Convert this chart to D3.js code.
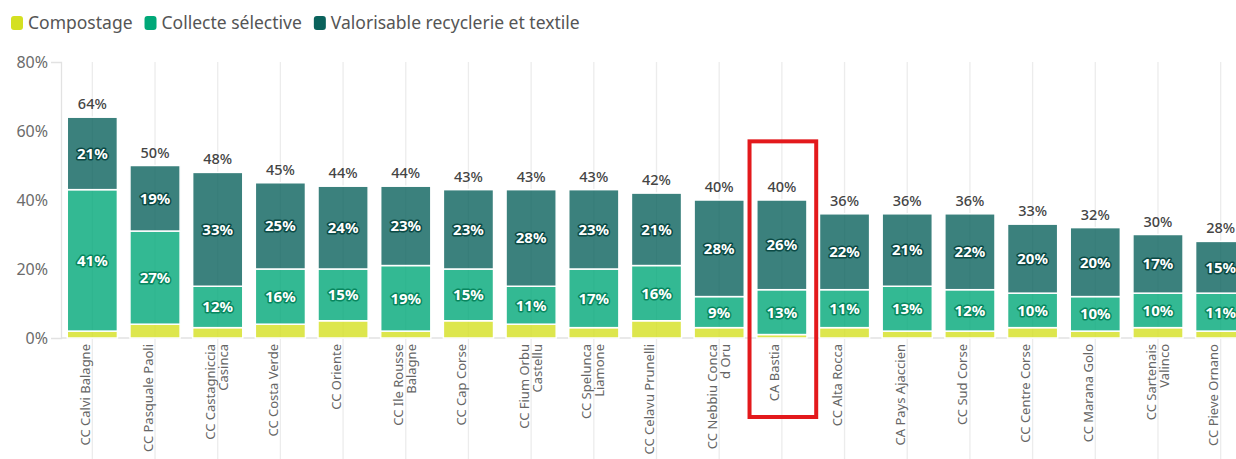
<!DOCTYPE html>
<html>
<head>
<meta charset="utf-8">
<script src="https://cdn.jsdelivr.net/npm/d3@7"></script>
<style>
  body { margin: 0; background: #fff; }
  svg { display: block; font-family: "Noto Sans", sans-serif; }
</style>
</head>
<body>
<svg id="chart" width="1236" height="459"></svg>
<script>
// data (percent)
var names = ["CC Calvi Balagne", "CC Pasquale Paoli", "CC Castagniccia|Casinca", "CC Costa Verde",
    "CC Oriente", "CC Ile Rousse|Balagne", "CC Cap Corse", "CC Fium Orbu|Castellu", "CC Spelunca|Liamone",
    "CC Celavu Prunelli", "CC Nebbiu Conca|d Oru", "CA Bastia", "CC Alta Rocca", "CA Pays Ajaccien",
    "CC Sud Corse", "CC Centre Corse", "CC Marana Golo", "CC Sartenais|Valinco", "CC Pieve Ornano"];
var compostage = [2, 4, 3, 4, 5, 2, 5, 4, 3, 5, 3, 1, 3, 2, 2, 3, 2, 3, 2];
var collecte = [41, 27, 12, 16, 15, 19, 15, 11, 17, 16, 9, 13, 11, 13, 12, 10, 10, 10, 11];
var valorisable = [21, 19, 33, 25, 24, 23, 23, 28, 23, 21, 28, 26, 22, 21, 22, 20, 20, 17, 15];
var totals = [64, 50, 48, 45, 44, 44, 43, 43, 43, 42, 40, 40, 36, 36, 36, 33, 32, 30, 28];
var yTicks = [0, 20, 40, 60, 80];
var seriesNames = ["Compostage", "Collecte sélective", "Valorisable recyclerie et textile"];
var highlighted = "CA Bastia";

var colors = ["#d4e021", "#00a878", "#0a625c"];
var halo = ["#9aa50f", "#08875f", "#0b4a45"];

var svg = d3.select("#chart");
var plotTop = 62, plotBottom = 338, plotLeft = 61;

var x = d3.scaleBand().domain(names).range([plotLeft, 1252]).paddingInner(0.2).paddingOuter(0.1);
var y = d3.scaleLinear().domain([0, 80]).range([plotBottom, plotTop]);

// vertical gridlines at each category
svg.append("g").selectAll("line").data(names).join("line")
    .attr("x1", function (d) { return x(d) + x.bandwidth() / 2; })
    .attr("x2", function (d) { return x(d) + x.bandwidth() / 2; })
    .attr("y1", plotTop).attr("y2", 459)
    .attr("stroke", "#ececec").attr("stroke-width", 1.3);

// y axis
var yAxis = svg.append("g")
    .attr("transform", "translate(" + plotLeft + ",0)")
    .call(d3.axisLeft(y).tickValues(yTicks).tickSizeInner(0).tickSizeOuter(10).tickPadding(13)
        .tickFormat(function (d) { return d + "%"; }));
yAxis.select(".domain").attr("stroke", "#e2e2e2").attr("stroke-width", 1.3);
yAxis.selectAll("text").attr("font-size", 16).attr("fill", "#6b6b6b")
    .attr("font-family", "Noto Sans, sans-serif");

// baseline
svg.append("line").attr("x1", plotLeft).attr("x2", 1236)
    .attr("y1", plotBottom).attr("y2", plotBottom)
    .attr("stroke", "#e2e2e2").attr("stroke-width", 1.3);

// stacked bars
var rows = names.map(function (n, i) {
    return {name: n, vals: [compostage[i], collecte[i], valorisable[i]], total: totals[i]};
});
var stacked = d3.stack().keys([0, 1, 2]).value(function (d, k) { return d.vals[k]; })(rows);

var layers = svg.append("g").selectAll("g").data(stacked).join("g")
    .attr("fill", function (d, i) { return colors[i]; })
    .attr("fill-opacity", 0.8);

layers.selectAll("rect").data(function (d) { return d; }).join("rect")
    .attr("x", function (d) { return x(d.data.name); })
    .attr("width", x.bandwidth())
    .attr("y", function (d) { return y(d[1]); })
    .attr("height", function (d) { return y(d[0]) - y(d[1]); })
    .attr("stroke", "#fff").attr("stroke-width", 1.5);

// segment labels (not for compostage)
stacked.forEach(function (layer, k) {
    if (k === 0) return;
    svg.append("g").selectAll("text").data(layer).join("text")
        .attr("x", function (d) { return x(d.data.name) + x.bandwidth() / 2; })
        .attr("y", function (d) { return (y(d[0]) + y(d[1])) / 2; })
        .attr("dy", "0.36em")
        .attr("text-anchor", "middle")
        .attr("font-size", 15).attr("font-weight", "bold")
        .attr("fill", "#fff")
        .attr("stroke", halo[k]).attr("stroke-width", 3).attr("stroke-linejoin", "round")
        .attr("paint-order", "stroke")
        .text(function (d) { return d.data.vals[k] + "%"; });
});

// totals on top
svg.append("g").selectAll("text").data(rows).join("text")
    .attr("x", function (d) { return x(d.name) + x.bandwidth() / 2; })
    .attr("y", function (d) { return y(d.total) - 8; })
    .attr("text-anchor", "middle")
    .attr("font-size", 14.5).attr("font-weight", 500).attr("fill", "#444")
    .text(function (d) { return d.total + "%"; });

// x labels, rotated
var xl = svg.append("g").selectAll("text").data(names).join("text")
    .attr("transform", function (d) {
        return "translate(" + (x(d) + x.bandwidth() / 2 - 7) + "," + 344 + ") rotate(-90)";
    })
    .attr("text-anchor", "end")
    .attr("font-size", 13).attr("fill", "#666");
xl.each(function (d) {
    var t = d3.select(this);
    d.split("|").forEach(function (line, i) {
        t.append("tspan").attr("x", 0).attr("y", i * 13).attr("dy", "0.35em").text(line);
    });
});

// highlight box
var bx = x(highlighted);
svg.append("rect")
    .attr("x", bx - x.step() * 0.1 - 1)
    .attr("y", y(57))
    .attr("width", x.step() + 4)
    .attr("height", 417 - y(57))
    .attr("fill", "none").attr("stroke", "#e3191c").attr("stroke-width", 4);

// legend
var lg = svg.append("g").attr("transform", "translate(11,23)");
var lx = 0;
seriesNames.forEach(function (s, i) {
    var g = lg.append("g").attr("transform", "translate(" + lx + ",0)");
    g.append("rect").attr("x", 0).attr("y", -7).attr("width", 12).attr("height", 14)
        .attr("rx", 3).attr("fill", colors[i]);
    var t = g.append("text").attr("x", 17).attr("dy", "0.35em")
        .attr("font-size", 17.5).attr("fill", "#555").text(s);
    lx += 17 + t.node().getComputedTextLength() + 12;
});
</script>
</body>
</html>
